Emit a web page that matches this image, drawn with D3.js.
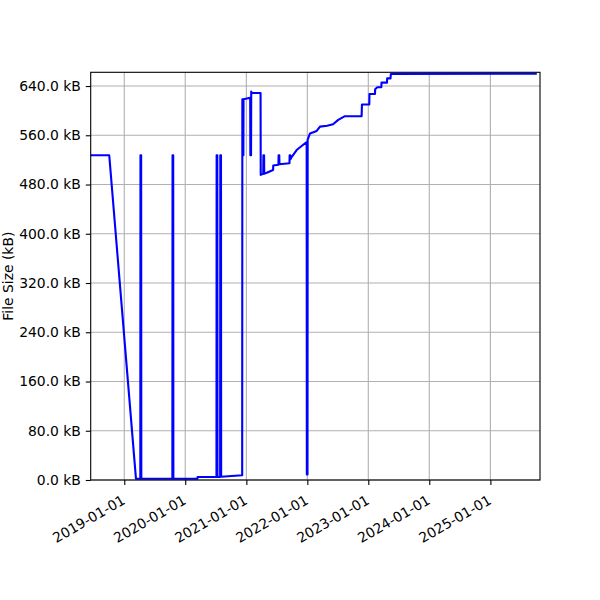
<!DOCTYPE html>
<html>
<head>
<meta charset="utf-8">
<script src="https://cdn.jsdelivr.net/npm/d3@7"></script>
<style>
  body { margin: 0; background: #fff; }
  svg text { font-family: "DejaVu Sans", sans-serif; font-size: 13.9px; fill: #000; }
</style>
</head>
<body>
<div id="chart"></div>
<script>
// File size history
const dates = [
  "2018-06-14", "2018-10-03", "2019-03-12",
  "2019-04-07", "2019-04-08", "2019-04-12", "2019-04-13",
  "2019-10-16", "2019-10-17", "2019-10-21", "2019-10-22",
  "2020-03-14", "2020-03-15",
  "2020-07-06", "2020-07-07", "2020-07-11", "2020-07-12",
  "2020-07-28", "2020-07-29", "2020-08-02", "2020-08-03",
  "2020-12-07", "2020-12-08", "2020-12-12", "2020-12-13", "2020-12-14", "2020-12-15",
  "2021-01-24", "2021-01-25", "2021-01-29", "2021-01-30",
  "2021-02-03", "2021-03-27", "2021-03-28", "2021-04-06",
  "2021-04-12", "2021-04-13", "2021-04-17", "2021-04-18",
  "2021-05-03", "2021-06-10", "2021-06-11",
  "2021-07-12", "2021-07-13", "2021-07-17", "2021-07-18",
  "2021-09-16", "2021-09-17", "2021-09-21", "2021-09-22",
  "2021-09-30", "2021-10-29", "2021-11-22", "2021-12-24",
  "2021-12-28", "2021-12-29", "2022-01-02", "2022-01-03",
  "2022-01-17", "2022-02-26", "2022-03-18", "2022-04-29", "2022-06-04", "2022-07-05",
  "2022-08-14", "2022-11-22", "2022-11-24", "2023-01-07", "2023-01-08", "2023-02-10",
  "2023-02-11", "2023-02-24", "2023-03-20", "2023-03-21", "2023-04-23", "2023-04-24",
  "2023-05-14", "2023-05-16", "2025-10-06"
];
const sizesKB = [
  527.5, 527.5, 2.1,
  2.1, 527.5, 527.5, 2.1,
  2.1, 527.5, 527.5, 2.1,
  2.1, 4.9,
  4.9, 527.5, 527.5, 4.9,
  4.9, 527.5, 527.5, 5.2,
  7.6, 618.6, 618.6, 527.5, 527.5, 618.6,
  621, 527.5, 527.5, 631,
  628.6, 628.6, 495.5, 497,
  497, 527.5, 527.5, 497.5,
  499, 503.6, 511,
  512, 527.5, 527.5, 513,
  514.5, 527.5, 527.5, 521,
  525, 536, 541.4, 548,
  549, 9, 9, 553,
  563, 567, 574, 575.6, 578, 585,
  591, 591, 610, 610, 627, 627,
  634.7, 638, 638, 645.5, 645.5, 652.5,
  652.5, 659.5, 660
];
const xTicks = ["2019-01-01", "2020-01-01", "2021-01-01", "2022-01-01", "2023-01-01", "2024-01-01", "2025-01-01"];
const yTicks = [0, 80, 160, 240, 320, 400, 480, 560, 640];

const parse = d3.utcParse("%Y-%m-%d");
const data = dates.map((d, i) => ({ date: parse(d), size: sizesKB[i] }));

const W = 600, H = 600;
const margin = { top: 72.3, right: 60, bottom: 120, left: 90.7 };

const svg = d3.select("#chart").append("svg")
  .attr("width", W).attr("height", H);

const x = d3.scaleUtc()
  .domain([parse("2018-06-14"), parse("2025-10-25")])
  .range([margin.left, W - margin.right]);
const y = d3.scaleLinear()
  .domain([0, 662.3])
  .range([H - margin.bottom, margin.top]);

const grid = svg.append("g").attr("stroke", "#b0b0b0").attr("stroke-width", 1.1);
grid.selectAll("line.vx").data(xTicks.map(parse)).join("line")
  .attr("x1", d => x(d)).attr("x2", d => x(d))
  .attr("y1", y.range()[0]).attr("y2", y.range()[1]);
grid.selectAll("line.hy").data(yTicks).join("line")
  .attr("x1", x.range()[0]).attr("x2", x.range()[1])
  .attr("y1", d => y(d)).attr("y2", d => y(d));

const line = d3.line().x(d => x(d.date)).y(d => y(d.size));
svg.append("path").datum(data)
  .attr("fill", "none").attr("stroke", "#0000ff")
  .attr("stroke-width", 2.1).attr("stroke-linejoin", "round")
  .attr("d", line);

// frame
svg.append("rect")
  .attr("x", x.range()[0]).attr("y", y.range()[1])
  .attr("width", x.range()[1] - x.range()[0])
  .attr("height", y.range()[0] - y.range()[1])
  .attr("fill", "none").attr("stroke", "#000").attr("stroke-width", 1.1);

const fmtDate = d3.utcFormat("%Y-%m-%d");
const xAxis = svg.append("g")
  .attr("transform", `translate(0,${y.range()[0]})`)
  .call(d3.axisBottom(x).tickValues(xTicks.map(parse)).tickFormat(fmtDate).tickSize(4.9).tickPadding(0));
xAxis.select(".domain").remove();
xAxis.selectAll(".tick line").attr("stroke", "#000").attr("stroke-width", 1.1);
xAxis.selectAll(".tick text")
  .attr("text-anchor", "end")
  .attr("dy", null)
  .attr("y", 0)
  .attr("transform", "translate(1.5,23) rotate(-30)");

const yAxis = svg.append("g")
  .attr("transform", `translate(${x.range()[0]},0)`)
  .call(d3.axisLeft(y).tickValues(yTicks).tickFormat(d => d.toFixed(1) + " kB").tickSize(4.9).tickPadding(4.9));
yAxis.select(".domain").remove();
yAxis.selectAll(".tick line").attr("stroke", "#000").attr("stroke-width", 1.1);

svg.append("text")
  .attr("text-anchor", "middle")
  .attr("transform", `translate(13,${(y.range()[0] + y.range()[1]) / 2}) rotate(-90)`)
  .text("File Size (kB)");
</script>
</body>
</html>
